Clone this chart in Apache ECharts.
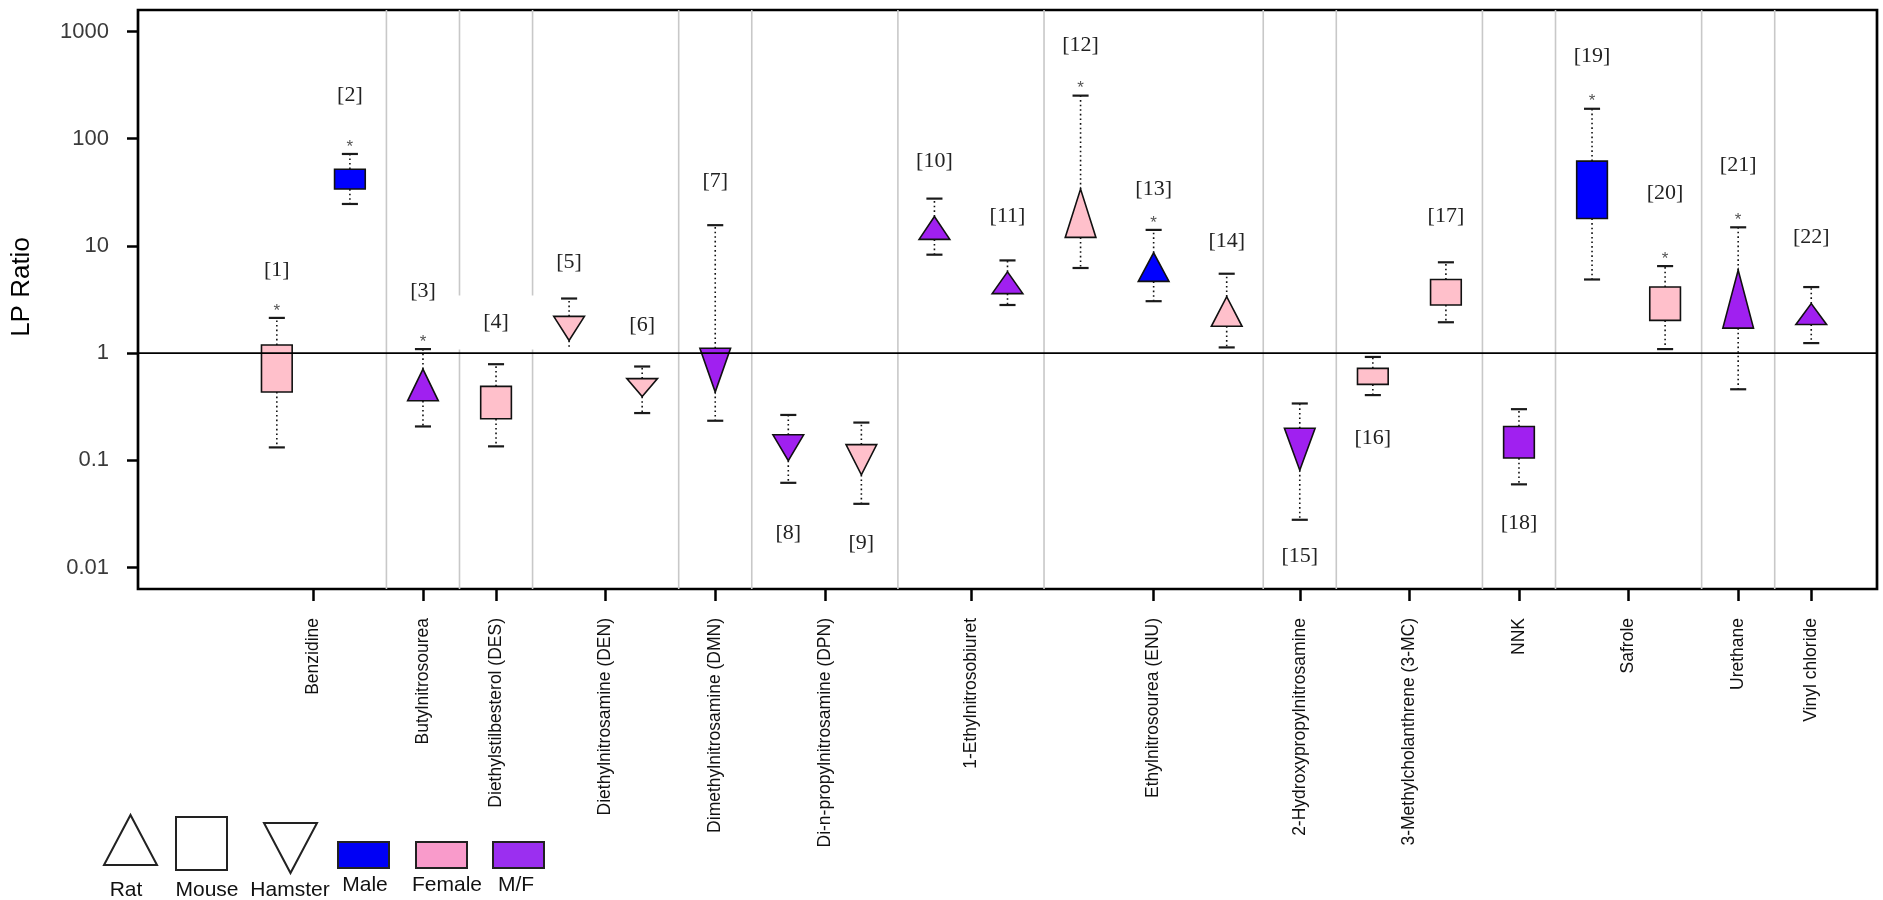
<!DOCTYPE html>
<html><head><meta charset="utf-8">
<script src="https://cdn.jsdelivr.net/npm/echarts@6/dist/echarts.min.js"></script>
<style>html,body{margin:0;padding:0;background:#fff}#c{width:1883px;height:900px}</style>
</head><body><div id="c"></div>
<script>
// ---------------- data ----------------
const categories = ['Benzidine','Butylnitrosourea','Diethylstilbesterol (DES)','Diethylnitrosamine (DEN)',
  'Dimethylnitrosamine (DMN)','Di-n-propylnitrosamine (DPN)','1-Ethylnitrosobiuret','Ethylnitrosourea (ENU)',
  '2-Hydroxypropylnitrosamine','3-Methylcholanthrene (3-MC)','NNK','Safrole','Urethane','Vinyl chloride'];
// item numbers ([n]) belonging to each category
const categoryItems = [[1,2],[3],[4],[5,6],[7],[8,9],[10,11],[12,13,14],[15],[16,17],[18],[19,20],[21],[22]];
const species = ['Mouse','Mouse','Rat','Mouse','Hamster','Hamster','Hamster','Hamster','Hamster','Rat','Rat',
  'Rat','Rat','Rat','Hamster','Mouse','Mouse','Mouse','Mouse','Mouse','Rat','Rat'];
const sex = ['Female','Male','M/F','Female','Female','Female','M/F','M/F','Female','M/F','M/F',
  'Female','Male','Female','M/F','Female','Female','M/F','Male','Female','M/F','M/F'];
const low  = [0.132,24.6,0.207,0.135,1.11,0.276,0.234,0.0617,0.0393,8.28,2.81,6.22,3.05,1.13,0.0279,0.406,1.94,0.0597,4.86,1.09,0.46,1.24];
const q1   = [0.434,33.9,0.359,0.244,1.31,0.393,0.434,0.0992,0.0733,11.5,3.59,12.0,4.67,1.78,0.0808,0.511,2.81,0.105,18.0,2.02,1.71,1.85];
const q3   = [1.19,51.9,0.709,0.490,2.20,0.578,1.11,0.173,0.140,18.8,5.73,33.9,8.63,3.36,0.199,0.721,4.86,0.207,61.7,4.13,5.94,2.90];
const high = [2.13,72.0,1.09,0.788,3.23,0.750,15.6,0.265,0.225,27.6,7.32,252,14.1,5.50,0.339,0.921,7.03,0.300,190,6.48,14.9,4.13];
const labelAt = [5.97,252,3.74,1.93,7.03,1.82,39.9,0.0209,0.0170,61.7,19.1,750,33.9,11.0,0.0128,0.162,19.1,0.0257,587,30.7,56.8,12.0];
const star = [1,1,1,0,0,0,0,0,0,0,0,1,1,0,0,0,0,0,1,1,1,0];
const lowerCap = [1,1,1,1,0,1,1,1,1,1,1,1,1,1,1,1,1,1,1,1,1,1];
const yTickValues = [0.01,0.1,1,10,100,1000];
const yTickLabels = ['0.01','0.1','1','10','100','1000'];
const legendSpecies = ['Rat','Mouse','Hamster'];
const legendSex = ['Male','Female','M/F'];

// ---------------- setup ----------------
const Y_MIN = Math.pow(10,-2.2), Y_MAX = Math.pow(10,3.2);
const X_MIN = -0.9, X_MAX = 22.9;
const sexColor = {'Male':'#0000ff','Female':'#ffc0cb','M/F':'#a020f0'};
const legendSexColor = {'Male':'#0000f5','Female':'#f99bcb','M/F':'#9b2ff0'};

const catCenters = categoryItems.map(a => a.reduce((s,v)=>s+v,0)/a.length);
const boundaries = [];
for (let i=0;i<categoryItems.length-1;i++){
  const a = categoryItems[i], b = categoryItems[i+1];
  boundaries.push((a[a.length-1]+b[0])/2);
}
const itemData = low.map((v,i)=>[i+1, low[i], q1[i], q3[i], high[i], labelAt[i]]);

function renderItem(params, api){
  const i = params.dataIndex;
  const x = api.value(0);
  const pLo = api.coord([x, api.value(1)]);
  const pQ1 = api.coord([x, api.value(2)]);
  const pQ3 = api.coord([x, api.value(3)]);
  const pHi = api.coord([x, api.value(4)]);
  const pLab = api.coord([x, api.value(5)]);
  const cx = pQ1[0];
  const unit = api.coord([x+1, api.value(2)])[0] - cx;
  const hw = unit*0.21, cw = unit*0.11;
  const col = sexColor[sex[i]];
  const ch = [];
  const dot = {stroke:'#111', lineWidth:1.6, lineDash:[1.6,3]};
  ch.push({type:'line', shape:{x1:cx,y1:pQ1[1],x2:cx,y2:pLo[1]}, style:dot});
  ch.push({type:'line', shape:{x1:cx,y1:pQ3[1],x2:cx,y2:pHi[1]}, style:dot});
  const capStyle = {stroke:'#1a1a1a', lineWidth:2.2};
  if (lowerCap[i]) ch.push({type:'line', shape:{x1:cx-cw,y1:pLo[1],x2:cx+cw,y2:pLo[1]}, style:capStyle});
  ch.push({type:'line', shape:{x1:cx-cw,y1:pHi[1],x2:cx+cw,y2:pHi[1]}, style:capStyle});
  const sStyle = {fill:col, stroke:'#111', lineWidth:1.6};
  if (species[i]==='Mouse'){
    ch.push({type:'rect', shape:{x:cx-hw, y:pQ3[1], width:2*hw, height:pQ1[1]-pQ3[1]}, style:sStyle});
  } else if (species[i]==='Rat'){
    ch.push({type:'polygon', shape:{points:[[cx-hw,pQ1[1]],[cx+hw,pQ1[1]],[cx,pQ3[1]]]}, style:sStyle});
  } else {
    ch.push({type:'polygon', shape:{points:[[cx-hw,pQ3[1]],[cx+hw,pQ3[1]],[cx,pQ1[1]]]}, style:sStyle});
  }
  if (star[i]){
    ch.push({type:'text', x:cx, y:pHi[1]-7, style:{text:'*', fill:'#555', fontSize:17,
      fontFamily:'Liberation Sans', align:'center', verticalAlign:'middle'}});
  }
  const lab = {text:'['+(i+1)+']', fill:'#222', fontSize:22, fontFamily:'Liberation Serif',
    align:'center', verticalAlign:'middle'};
  if (i===3){ lab.backgroundColor = '#fff'; lab.padding = [17,27,15,27]; }
  ch.push({type:'text', x:cx, y:pLab[1], style:lab});
  return {type:'group', children:ch};
}

function renderGrid(params, api){
  const b = api.value(0);
  const p1 = api.coord([b, Y_MAX]), p2 = api.coord([b, Y_MIN]);
  return {type:'line', shape:{x1:p1[0],y1:p1[1],x2:p2[0],y2:p2[1]}, style:{stroke:'#c8c8c8', lineWidth:1.6}};
}
function renderRef(params, api){
  const p1 = api.coord([X_MIN, api.value(1)]), p2 = api.coord([X_MAX, api.value(1)]);
  return {type:'line', shape:{x1:p1[0],y1:p1[1],x2:p2[0],y2:p2[1]}, style:{stroke:'#000', lineWidth:1.8}};
}

// legend graphics
const legendEls = [];
const shapeBoxes = [[104,815],[176,817],[264,823]];
legendSpecies.forEach((name,k)=>{
  const [lx,ly] = shapeBoxes[k];
  const st = {fill:'#fff', stroke:'#222', lineWidth:2};
  if (name==='Rat') legendEls.push({type:'polygon', shape:{points:[[lx,ly+50],[lx+53,ly+50],[lx+26.5,ly]]}, style:st});
  else if (name==='Mouse') legendEls.push({type:'rect', shape:{x:lx,y:ly,width:51,height:53}, style:st});
  else legendEls.push({type:'polygon', shape:{points:[[lx,ly],[lx+53,ly],[lx+26.5,ly+50]]}, style:st});
  const tx = [126,207,290][k];
  legendEls.push({type:'text', x:tx, y:890, style:{text:name, fill:'#111', fontSize:21, fontFamily:'Liberation Sans', align:'center', verticalAlign:'middle'}});
});
legendSex.forEach((name,k)=>{
  const lx = [338,416,493][k];
  legendEls.push({type:'rect', shape:{x:lx,y:842,width:51,height:26}, style:{fill:legendSexColor[name], stroke:'#222', lineWidth:2}});
  legendEls.push({type:'text', x:[365,447,516][k], y:885, style:{text:name, fill:'#111', fontSize:21, fontFamily:'Liberation Sans', align:'center', verticalAlign:'middle'}});
});

const chart = echarts.init(document.getElementById('c'), null, {renderer:'canvas'});
chart.setOption({
  animation:false,
  backgroundColor:'#fff',
  grid:{left:138, right:6, top:10, bottom:311, show:true, borderColor:'#000', borderWidth:2.7, backgroundColor:'transparent'},
  xAxis:{type:'value', min:X_MIN, max:X_MAX,
    axisLine:{show:false, onZero:false}, splitLine:{show:false},
    axisTick:{show:true, length:12, lineStyle:{color:'#000', width:2.5}, customValues:catCenters},
    axisLabel:{customValues:catCenters, rotate:90, margin:29, fontSize:17.5, fontFamily:'Liberation Sans', color:'#111',
      formatter:function(v){
        let best=0, bd=1e9;
        catCenters.forEach((c,k)=>{ const d=Math.abs(c-v); if(d<bd){bd=d;best=k;} });
        return categories[best];
      }}
  },
  yAxis:{type:'log', logBase:10, min:Y_MIN, max:Y_MAX,
    name:'LP Ratio', nameLocation:'middle', nameGap:103,
    nameTextStyle:{fontSize:26, fontFamily:'Liberation Sans', color:'#000', padding:[0,0,0,25]},
    axisLine:{show:false, onZero:false}, splitLine:{show:false}, minorTick:{show:false},
    axisTick:{show:true, length:11, lineStyle:{color:'#000', width:2.5}, customValues:yTickValues},
    axisLabel:{customValues:yTickValues, margin:29, fontSize:22, fontFamily:'Liberation Sans', color:'#3a3a3a',
      formatter:function(v){
        for (let k=0;k<yTickValues.length;k++){ if (Math.abs(Math.log10(v)-Math.log10(yTickValues[k]))<1e-6) return yTickLabels[k]; }
        return '';
      }}
  },
  series:[
    {type:'custom', z:1, silent:true, renderItem:renderGrid, data:boundaries.map(b=>[b, 1]), encode:{x:0,y:1}},
    {type:'custom', z:3, silent:true, renderItem:renderItem, data:itemData, encode:{x:0, y:[1,2,3,4,5]}},
    {type:'custom', z:4, silent:true, renderItem:renderRef, data:[[X_MIN,1]], encode:{x:0,y:1}}
  ],
  graphic:legendEls
});
</script>
</body></html>
